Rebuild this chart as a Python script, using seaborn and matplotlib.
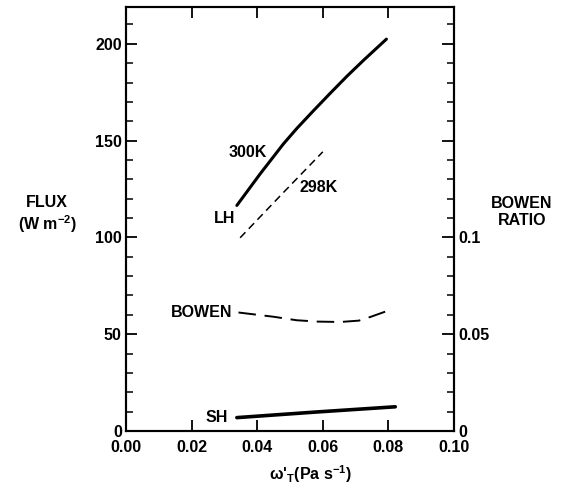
import numpy as np
import pandas as pd
import matplotlib
matplotlib.use("Agg")
import matplotlib.pyplot as plt
import seaborn as sns
from matplotlib.ticker import MultipleLocator, FixedLocator

# latent heat flux, 300K curve (W m-2)
lh300_x = [0.0338, 0.0409, 0.0480, 0.0521, 0.0572, 0.0623, 0.0674, 0.0725, 0.0794]
lh300_y = [116.5, 132.8, 148.3, 156.3, 165.5, 174.5, 183.3, 191.6, 202.4]
# latent heat flux, 298K curve
lh298_x = [0.0348, 0.0475, 0.0600]
lh298_y = [99.8, 122.3, 144.2]
# sensible heat flux
sh_x = [0.0338, 0.0580, 0.0821]
sh_y = [6.9, 9.8, 12.5]
# bowen ratio (right axis)
bowen_x = [0.0343, 0.0450, 0.0520, 0.0585, 0.0653, 0.0710, 0.0745, 0.0803]
bowen_y = [0.0612, 0.0590, 0.0572, 0.0565, 0.0563, 0.0570, 0.0589, 0.0624]

sns.set_style("ticks")
plt.rcParams['font.family'] = ['Liberation Sans', 'DejaVu Sans']
plt.rcParams['font.weight'] = 'bold'
plt.rcParams['mathtext.default'] = 'regular'
plt.rcParams['axes.linewidth'] = 1.5
for k in ['text.color', 'axes.labelcolor', 'xtick.color', 'ytick.color', 'axes.edgecolor']:
    plt.rcParams[k] = 'black'

fs = 11.5

fig = plt.figure(figsize=(5.65, 4.86), dpi=100)
ax = fig.add_axes([0.223, 0.1132, 0.5805, 0.8724])

df300 = pd.DataFrame({"x": lh300_x, "y": lh300_y})
df298 = pd.DataFrame({"x": lh298_x, "y": lh298_y})
dfsh = pd.DataFrame({"x": sh_x, "y": sh_y})
dfb = pd.DataFrame({"x": bowen_x, "y": bowen_y})

sns.lineplot(data=df300, x="x", y="y", ax=ax, color="black", lw=2.2, sort=False)
sns.lineplot(data=df298, x="x", y="y", ax=ax, color="black", lw=1.1,
             sort=False, linestyle=(0, (5, 3.2)))
sns.lineplot(data=dfsh, x="x", y="y", ax=ax, color="black", lw=2.6, sort=False)

ax.set_xlim(0, 0.1)
ax.set_ylim(0, 219)
ax.set_xticks([0, 0.02, 0.04, 0.06, 0.08, 0.10])
ax.set_xticklabels(["0.00", "0.02", "0.04", "0.06", "0.08", "0.10"], fontsize=fs)
ax.set_yticks([0, 50, 100, 150, 200])
ax.set_yticklabels(["0", "50", "100", "150", "200"], fontsize=fs)
ax.yaxis.set_minor_locator(MultipleLocator(10))
ax.tick_params(axis='x', which='major', direction='in', top=True, length=8, width=1.3, pad=6.5)
ax.tick_params(axis='y', which='major', direction='in', right=False, length=8, width=1.3, pad=3)
ax.tick_params(axis='y', which='minor', direction='in', right=False, length=5, width=1.1)
ax.set_xlabel("")
ax.set_ylabel("")

ax2 = ax.twinx()
sns.lineplot(data=dfb, x="x", y="y", ax=ax2, color="black", lw=1.4,
             sort=False, linestyle=(0, (9, 4.5)))
ax2.set_ylim(0, 0.219)
ax2.yaxis.set_major_locator(FixedLocator([0, 0.05, 0.1, 0.15, 0.2]))
ax2.set_yticklabels(["0", "0.05", "0.1", "", ""], fontsize=fs)
ax2.yaxis.set_minor_locator(MultipleLocator(0.01))
ax2.tick_params(axis='y', which='major', direction='in', length=9, width=1.3, pad=3)
ax2.tick_params(axis='y', which='minor', direction='in', length=5, width=1.1)
ax2.set_ylabel("")
for sp in ax2.spines.values():
    sp.set_linewidth(1.5)

# curve labels
ax.text(0.0372, 144, "300K", fontsize=fs, ha='center', va='center')
ax.text(0.0300, 110, "LH", fontsize=fs, ha='center', va='center')
ax.text(0.0586, 126, "298K", fontsize=fs, ha='center', va='center')
ax.text(0.0324, 61, "BOWEN", fontsize=fs, ha='right', va='center')
ax.text(0.0311, 7, "SH", fontsize=fs, ha='right', va='center')

fig.text(47 / 565, 1 - 215 / 486, "FLUX\n(W m$^{-2}$)", fontsize=fs,
         ha='center', va='center', multialignment='center')
fig.text(522 / 565, 1 - 212 / 486, "BOWEN\nRATIO", fontsize=fs,
         ha='center', va='center', multialignment='center')
fig.text(310 / 565, 1 - 474 / 486, "ω'$_{T}$(Pa s$^{-1}$)", fontsize=fs,
         ha='center', va='center')

fig.savefig("out.png", dpi=100)
